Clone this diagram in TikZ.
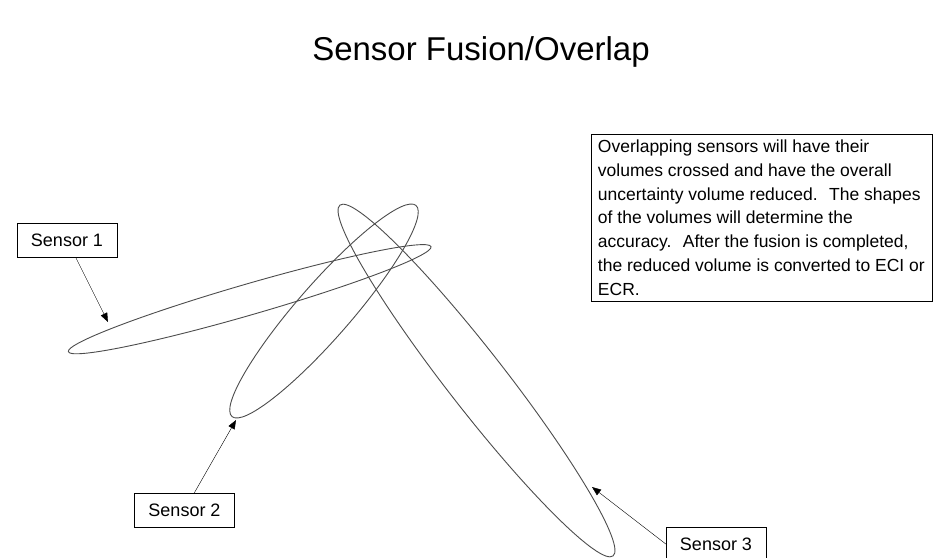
\documentclass[tikz,border=0pt]{standalone}
\usepackage{fontspec}
\setmainfont{Liberation Sans}
\usetikzlibrary{arrows.meta, positioning}

\begin{document}
\begin{tikzpicture}[
    x=1pt, y=-1pt,
    >={Triangle[length=9pt, width=7pt]},
    tag/.style={rectangle, draw, fill=white, minimum width=100pt, minimum height=34pt, inner sep=0pt, font=\fontsize{18}{21}\selectfont},
    note/.style={rectangle, draw, align=left, inner xsep=7pt, inner ysep=6pt, font=\fontsize{17.5}{23.7}\selectfont},
    volume/.style={draw=black!70, line width=0.9pt}
  ]
    \useasboundingbox (0,0) rectangle (934,557);
    \node[font=\fontsize{33}{38}\selectfont] (title) at (481,52) {Sensor Fusion/Overlap};

    % uncertainty volumes
    \draw[volume, rotate around={16.15:(249.7,299.2)}] (249.7,299.2) ellipse [x radius=188.8pt, y radius=15.5pt];
    \draw[volume, rotate around={48.9:(324,311)}] (324,311) ellipse [x radius=140pt, y radius=27pt];
    \draw[volume, rotate around={-52.1:(476.5,380.5)}] (476.5,380.5) ellipse [x radius=222.3pt, y radius=29pt];

    \coordinate (tip1) at (108,322);
    \coordinate (tip2) at (236,420);
    \coordinate (tip3) at (592,487);

    \node[tag] (sensor1) at (67,240) {Sensor 1};
    \node[tag] (sensor2) at (184.5,510) {Sensor 2};
    \node[tag] (sensor3) at (716,544) {Sensor 3};

    \node[note, anchor=north east] (fusion) at (932,134) {Overlapping sensors will have their\\
      volumes crossed and have the overall\\
      uncertainty volume reduced.~ The shapes\\
      of the volumes will determine the\\
      accuracy.~ After the fusion is completed,\\
      the reduced volume is converted to ECI or\\
      ECR.};

    \draw[->] (sensor1) -- (tip1);
    \draw[->] (sensor2) -- (tip2);
    \draw[->] (sensor3.west) -- (tip3);
  \end{tikzpicture}
\end{document}
